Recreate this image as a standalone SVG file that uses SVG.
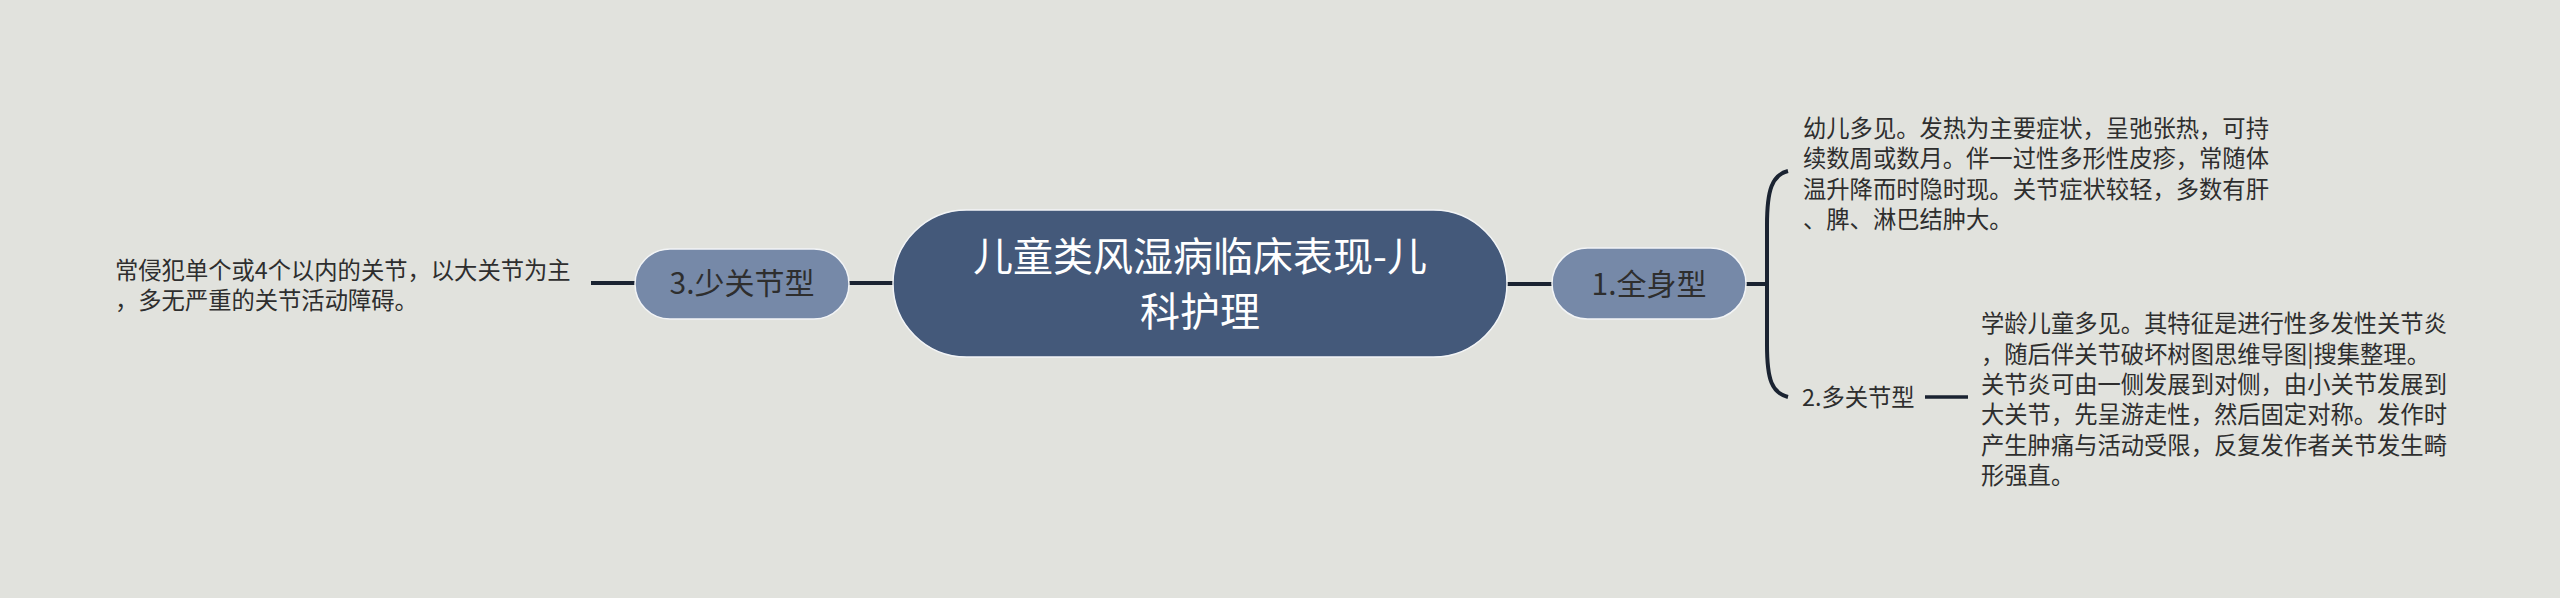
<svg xmlns="http://www.w3.org/2000/svg" width="2560" height="598" viewBox="0 0 2560 598">
<style>
.bg{fill:#e1e2dd}
.root{fill:#44597a;stroke:#f2f4f6;stroke-width:1.5}
.sub{fill:#7689a8;stroke:#f2f4f6;stroke-width:1.5}
.rt{font-family:"Noto Sans CJK SC","Noto Sans",sans-serif;font-size:40px;fill:#ffffff;text-anchor:middle}
.st{font-family:"Noto Sans CJK SC","Noto Sans",sans-serif;font-size:30px;fill:#2e2e2e;text-anchor:middle}
.tx{font-family:"Noto Sans CJK SC","Noto Sans",sans-serif;font-size:23.3px;fill:#2e2e2e}
.ln{fill:none;stroke:#1a2331;stroke-width:4;stroke-linecap:butt}
</style>
<rect class="bg" x="0" y="0" width="2560" height="598"/>
<g id="connectors">
<line class="ln" x1="849" y1="283" x2="893" y2="283"/>
<line class="ln" x1="591" y1="283" x2="635" y2="283"/>
<line class="ln" x1="1507" y1="284" x2="1552" y2="284"/>
<line class="ln" x1="1745" y1="284" x2="1767" y2="284"/>
<path class="ln" d="M1788,171 C1772,175 1767,190 1767,225 L1767,345 C1767,380 1772,393 1788,397"/>
<line class="ln" x1="1925" y1="397" x2="1968" y2="397" style="stroke-width:3.5"/>
</g>
<g id="root">
<rect class="root" x="893" y="210" width="614" height="147" rx="73.5"/>
<text class="rt" x="1200" y="271">儿童类风湿病临床表现-儿</text>
<text class="rt" x="1200" y="326">科护理</text>
</g>
<g id="n1">
<rect class="sub" x="1552" y="248" width="194" height="71" rx="35.5"/>
<text class="st" x="1649" y="295">1.全身型</text>
</g>
<g id="n1-text">
<text class="tx" x="1803" y="137">幼儿多见。发热为主要症状，呈弛张热，可持</text>
<text class="tx" x="1803" y="167">续数周或数月。伴一过性多形性皮疹，常随体</text>
<text class="tx" x="1803" y="198">温升降而时隐时现。关节症状较轻，多数有肝</text>
<text class="tx" x="1803" y="228">、脾、淋巴结肿大。</text>
</g>
<g id="n2">
<text class="tx" x="1802" y="406">2.多关节型</text>
</g>
<g id="n2-text">
<text class="tx" x="1981" y="332">学龄儿童多见。其特征是进行性多发性关节炎</text>
<text class="tx" x="1981" y="363">，随后伴关节破坏树图思维导图|搜集整理。</text>
<text class="tx" x="1981" y="393">关节炎可由一侧发展到对侧，由小关节发展到</text>
<text class="tx" x="1981" y="423">大关节，先呈游走性，然后固定对称。发作时</text>
<text class="tx" x="1981" y="454">产生肿痛与活动受限，反复发作者关节发生畸</text>
<text class="tx" x="1981" y="484">形强直。</text>
</g>
<g id="n3">
<rect class="sub" x="635" y="249" width="214" height="70" rx="35"/>
<text class="st" x="742" y="294">3.少关节型</text>
</g>
<g id="n3-text">
<text class="tx" x="115" y="279">常侵犯单个或4个以内的关节，以大关节为主</text>
<text class="tx" x="115" y="309">，多无严重的关节活动障碍。</text>
</g>
</svg>
